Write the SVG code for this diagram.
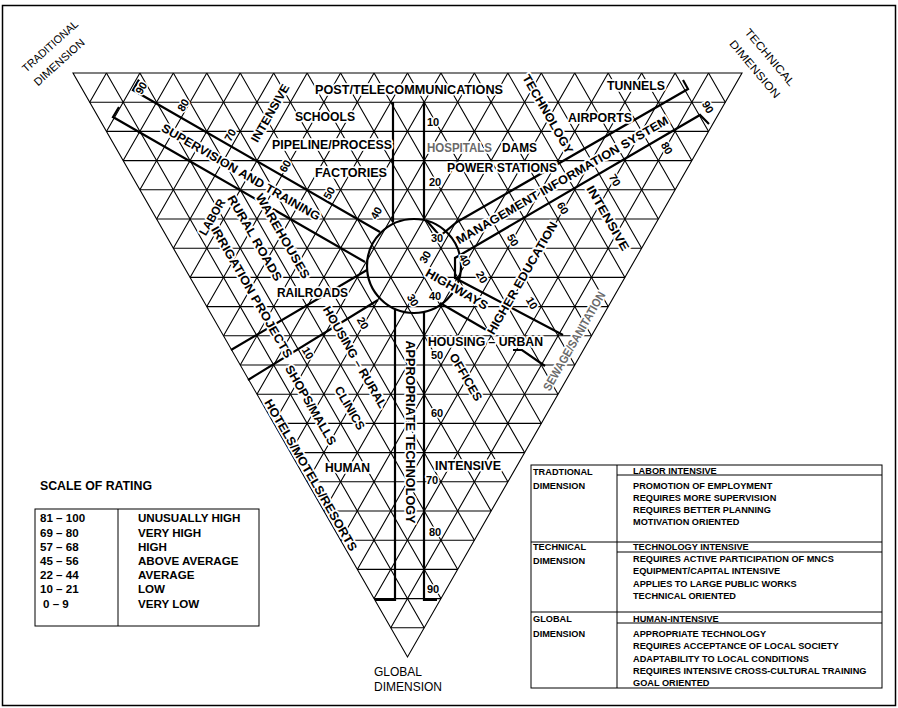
<svg xmlns="http://www.w3.org/2000/svg" width="898" height="708" viewBox="0 0 898 708">
<style>
.g{stroke:#000;stroke-width:1.1;fill:none}
.k{stroke:#000;stroke-width:2.2;fill:none;stroke-linejoin:miter}
.th{stroke:#000;stroke-width:1;fill:none}
text{font-family:"Liberation Sans",Arial,Helvetica,sans-serif;fill:#000}
.lb{font-size:12px;font-weight:bold;text-anchor:middle;stroke:#fff;stroke-width:3.5;paint-order:stroke;stroke-linejoin:round}
.nm{font-size:11px;font-weight:bold;text-anchor:middle;stroke:#fff;stroke-width:3;paint-order:stroke;stroke-linejoin:round}
.gr{fill:#6a6a6a}
.cn{font-size:11px;text-anchor:middle}
.gd{font-size:12px}
.sr{font-size:11.6px;font-weight:bold}
.dt{font-size:9.2px;font-weight:bold}
</style>
<rect x="2.5" y="5.5" width="893" height="700" fill="#fff" stroke="#000" stroke-width="1.5"/>

<g id="grid">
<path class="g" d="M73,73H742L407.5,657Z"/>
<path class="g" d="M89.7,102.2H725.3M106.5,131.4H708.6M123.2,160.6H691.8M139.9,189.8H675.1M156.6,219H658.4M173.4,248.2H641.7M190.1,277.4H624.9M206.8,306.6H608.2M223.5,335.8H591.5M240.3,365H574.8M257,394.2H558M273.7,423.4H541.3M290.4,452.6H524.6M307.2,481.8H507.9M323.9,511H491.1M340.6,540.2H474.4M357.3,569.4H457.7M374.1,598.6H441M390.8,627.8H424.3"/>
<path class="g" d="M106.45,73L424.2,627.8M139.9,73L440.95,598.6M173.35,73L457.7,569.4M206.8,73L474.4,540.2M240.25,73L491.1,511M273.7,73L507.85,481.8M307.15,73L524.6,452.6M340.6,73L541.3,423.4M374.05,73L558,394.2M407.5,73L574.75,365M440.95,73L591.5,335.8M474.4,73L608.2,306.6M507.85,73L624.9,277.4M541.3,73L641.65,248.2M574.75,73L658.4,219M608.2,73L675.1,189.8M641.65,73L691.8,160.6M675.1,73L708.6,131.4M708.55,73L725.3,102.2"/>
<path class="g" d="M106.45,73L89.7,102.2M139.9,73L106.45,131.4M173.35,73L123.2,160.6M206.8,73L139.9,189.8M240.25,73L156.6,219M273.7,73L173.35,248.2M307.15,73L190.1,277.4M340.6,73L206.8,306.6M374.05,73L223.5,335.8M407.5,73L240.25,365M440.95,73L256.95,394.2M474.4,73L273.7,423.4M507.85,73L290.4,452.6M541.3,73L307.15,481.8M574.75,73L323.9,511M608.2,73L340.6,540.2M641.65,73L357.3,569.4M675.1,73L374.05,598.6M708.55,73L390.8,627.8"/>
</g>

<g id="connectors">
<circle class="k" cx="414" cy="266" r="47"/>
<path class="k" d="M139,79.6L133,90L380,232"/>
<path class="k" d="M119,107L113,117L365,262"/>
<path class="k" d="M426,220L440,236L457,222L688,89L683,80"/>
<path class="k" d="M709,124L700,115L455,258L455,278L563,335"/>
<path class="k" d="M440,303L495,335"/>
<path class="k" d="M513,350L522,350L545,366"/>
<path class="k" d="M393,102V222M424,102V219"/>
<path class="k" d="M375,600H395V309M437,600H424V312"/>
<path class="k" d="M378,300L248,380M367,270L231,350"/>
</g>

<g id="labels">
<g id="n-post"><text class="lb" x="409" y="94.3" textLength="188" lengthAdjust="spacingAndGlyphs">POST/TELECOMMUNICATIONS</text></g>
<g id="n-schools"><text class="lb" x="325" y="121.3" textLength="60" lengthAdjust="spacingAndGlyphs">SCHOOLS</text></g>
<g id="n-pipeline"><text class="lb" x="332" y="149.3" textLength="120" lengthAdjust="spacingAndGlyphs">PIPELINE/PROCESS</text></g>
<g id="n-factories"><text class="lb" x="351" y="177.3" textLength="72" lengthAdjust="spacingAndGlyphs">FACTORIES</text></g>
<g id="n-hospitals"><text class="lb gr" x="459.5" y="152.3" textLength="65" lengthAdjust="spacingAndGlyphs">HOSPITALS</text></g>
<g id="n-dams"><text class="lb" x="519.5" y="152.3" textLength="35" lengthAdjust="spacingAndGlyphs">DAMS</text></g>
<g id="n-power"><text class="lb" x="502" y="172.3" textLength="110" lengthAdjust="spacingAndGlyphs">POWER STATIONS</text></g>
<g id="n-tunnels"><text class="lb" x="636" y="90.3" textLength="58" lengthAdjust="spacingAndGlyphs">TUNNELS</text></g>
<g id="n-airports"><text class="lb" x="600" y="122.3" textLength="64" lengthAdjust="spacingAndGlyphs">AIRPORTS</text></g>
<g id="n-railroads"><text class="lb" x="312.5" y="297.3" textLength="71" lengthAdjust="spacingAndGlyphs">RAILROADS</text></g>
<g id="n-human"><text class="lb" x="347.5" y="472.3" textLength="45" lengthAdjust="spacingAndGlyphs">HUMAN</text></g>
<g id="n-intensive-g"><text class="lb" x="468" y="469.5" textLength="66" lengthAdjust="spacingAndGlyphs">INTENSIVE</text></g>
<g id="n-housing-urban"><text class="lb" x="485.5" y="346.3" textLength="115" lengthAdjust="spacingAndGlyphs">HOUSING – URBAN</text></g>

<g id="n-supervision"><text class="lb" transform="translate(241,172) rotate(30)" y="4.3" textLength="181" lengthAdjust="spacingAndGlyphs">SUPERVISION AND TRAINING</text></g>
<g id="n-warehouses"><text class="lb" transform="translate(283,236) rotate(60)" y="4.3" textLength="96" lengthAdjust="spacingAndGlyphs">WAREHOUSES</text></g>
<g id="n-labor"><text class="lb" transform="translate(212,217) rotate(-60)" y="4.3" textLength="40" lengthAdjust="spacingAndGlyphs">LABOR</text></g>
<g id="n-rural-roads"><text class="lb" transform="translate(255,238) rotate(60)" y="4.3" textLength="97" lengthAdjust="spacingAndGlyphs">RURAL ROADS</text></g>
<g id="n-irrigation"><text class="lb" transform="translate(252,292) rotate(60)" y="4.3" textLength="150" lengthAdjust="spacingAndGlyphs">IRRIGATION PROJECTS</text></g>
<g id="n-housing-rural"><text class="lb" transform="translate(355,357) rotate(60)" y="4.3" textLength="115" lengthAdjust="spacingAndGlyphs">HOUSING – RURAL</text></g>
<g id="n-shops"><text class="lb" transform="translate(311,405) rotate(60)" y="4.3" textLength="90" lengthAdjust="spacingAndGlyphs">SHOPS/MALLS</text></g>
<g id="n-clinics"><text class="lb" transform="translate(350,408) rotate(60)" y="4.3" textLength="48" lengthAdjust="spacingAndGlyphs">CLINICS</text></g>
<g id="n-hotels"><text class="lb" transform="translate(311,475) rotate(60)" y="4.3" textLength="173" lengthAdjust="spacingAndGlyphs">HOTELS/MOTELS/RESORTS</text></g>
<g id="n-appropriate"><text class="lb" transform="translate(410,432) rotate(90)" y="4.3" textLength="183" lengthAdjust="spacingAndGlyphs">APPROPRIATE TECHNOLOGY</text></g>
<g id="n-offices"><text class="lb" transform="translate(466,377) rotate(60)" y="4.3" textLength="53" lengthAdjust="spacingAndGlyphs">OFFICES</text></g>
<g id="n-sewage"><text class="lb gr" transform="translate(574,341) rotate(-60)" y="4.3" textLength="112" lengthAdjust="spacingAndGlyphs">SEWAGE/SANITATION</text></g>
<g id="n-higher-ed"><text class="lb" transform="translate(522,278) rotate(-60)" y="4.3" textLength="128" lengthAdjust="spacingAndGlyphs">HIGHER EDUCATION</text></g>
<g id="n-highways"><text class="lb" transform="translate(457,289) rotate(30)" y="4.3" textLength="70" lengthAdjust="spacingAndGlyphs">HIGHWAYS</text></g>
<g id="n-mis"><text class="lb" transform="translate(562,180) rotate(-30)" y="4.3" textLength="243" lengthAdjust="spacingAndGlyphs">MANAGEMENT INFORMATION SYSTEM</text></g>
<g id="n-intensive-t"><text class="lb" transform="translate(608,218) rotate(60)" y="4.3" textLength="73" lengthAdjust="spacingAndGlyphs">INTENSIVE</text></g>
<g id="n-technology"><text class="lb" transform="translate(548,114) rotate(60)" y="4.3" textLength="89" lengthAdjust="spacingAndGlyphs">TECHNOLOGY</text></g>
<g id="n-intensive-l"><text class="lb" transform="translate(270,113) rotate(-60)" y="4.3" textLength="65" lengthAdjust="spacingAndGlyphs">INTENSIVE</text></g>
</g>

<g id="scale-traditional">
<text class="nm" transform="translate(141,88) rotate(-60)" y="4">90</text>
<text class="nm" transform="translate(183,105) rotate(-60)" y="4">80</text>
<text class="nm" transform="translate(230,135) rotate(-60)" y="4">70</text>
<text class="nm" transform="translate(285,166) rotate(-60)" y="4">60</text>
<text class="nm" transform="translate(329,193) rotate(-60)" y="4">50</text>
<text class="nm" transform="translate(376,213) rotate(-60)" y="4">40</text>
<text class="nm" transform="translate(425,257) rotate(-60)" y="4">30</text>
<text class="nm" transform="translate(482,277) rotate(60)" y="4">20</text>
<text class="nm" transform="translate(532,303) rotate(60)" y="4">10</text>
</g>
<g id="scale-technical">
<text class="nm" transform="translate(708,107) rotate(60)" y="4">90</text>
<text class="nm" transform="translate(667,148) rotate(60)" y="4">80</text>
<text class="nm" transform="translate(615,180) rotate(60)" y="4">70</text>
<text class="nm" transform="translate(563,208) rotate(60)" y="4">60</text>
<text class="nm" transform="translate(513,240) rotate(60)" y="4">50</text>
<text class="nm" transform="translate(465,260) rotate(60)" y="4">40</text>
<text class="nm" transform="translate(413,300) rotate(60)" y="4">30</text>
<text class="nm" transform="translate(363,323) rotate(60)" y="4">20</text>
<text class="nm" transform="translate(308,353) rotate(60)" y="4">10</text>
</g>
<g id="scale-global">
<text class="nm" x="433" y="126">10</text>
<text class="nm" x="435" y="186">20</text>
<text class="nm" x="437" y="242">30</text>
<text class="nm" x="435" y="300">40</text>
<text class="nm" x="437" y="359">50</text>
<text class="nm" x="437" y="417">60</text>
<text class="nm" x="432" y="484">70</text>
<text class="nm" x="435" y="536">80</text>
<text class="nm" x="433" y="593">90</text>
</g>

<g id="corner-labels">
<text class="cn" transform="translate(50,46) rotate(-42)" y="4" textLength="71" lengthAdjust="spacingAndGlyphs">TRADITIONAL</text>
<text class="cn" transform="translate(59,62) rotate(-42)" y="4" textLength="64" lengthAdjust="spacingAndGlyphs">DIMENSION</text>
<text class="cn" transform="translate(770,57) rotate(50)" y="4" textLength="71" lengthAdjust="spacingAndGlyphs">TECHNICAL</text>
<text class="cn" transform="translate(755,69) rotate(50)" y="4" textLength="72" lengthAdjust="spacingAndGlyphs">DIMENSION</text>
<text class="gd" x="374" y="676">GLOBAL</text>
<text class="gd" x="374" y="691">DIMENSION</text>
</g>

<g id="scale-of-rating">
<text x="40" y="490" font-size="12" font-weight="bold" textLength="112" lengthAdjust="spacingAndGlyphs">SCALE OF RATING</text>
<rect class="th" x="35" y="509" width="224" height="117"/>
<path class="th" d="M118,509V626"/>
<text class="sr" x="40" y="522">81 – 100</text>
<text class="sr" x="40" y="537">69 – 80</text>
<text class="sr" x="40" y="551">57 – 68</text>
<text class="sr" x="40" y="565">45 – 56</text>
<text class="sr" x="40" y="579">22 – 44</text>
<text class="sr" x="40" y="593">10 – 21</text>
<text class="sr" x="43" y="608">0 – 9</text>
<text class="sr" x="138" y="522">UNUSUALLY HIGH</text>
<text class="sr" x="138" y="537">VERY HIGH</text>
<text class="sr" x="138" y="551">HIGH</text>
<text class="sr" x="138" y="565">ABOVE AVERAGE</text>
<text class="sr" x="138" y="579">AVERAGE</text>
<text class="sr" x="138" y="593">LOW</text>
<text class="sr" x="138" y="608">VERY LOW</text>
</g>

<g id="dimension-table">
<rect class="th" x="531" y="465" width="351" height="223"/>
<path class="th" d="M617,465V688M531,542H882M531,612H882M617,475H882M617,552H882M617,623H882"/>
<text class="dt" x="533" y="474.5">TRADTIONAL</text>
<text class="dt" x="533" y="488.5">DIMENSION</text>
<text class="dt" x="533" y="549.5">TECHNICAL</text>
<text class="dt" x="533" y="563.5">DIMENSION</text>
<text class="dt" x="533" y="621.5">GLOBAL</text>
<text class="dt" x="533" y="636.5">DIMENSION</text>
<text class="dt" x="633" y="474">LABOR INTENSIVE</text>
<text class="dt" x="633" y="488.5">PROMOTION OF EMPLOYMENT</text>
<text class="dt" x="633" y="500.5">REQUIRES MORE SUPERVISION</text>
<text class="dt" x="633" y="512.5">REQUIRES BETTER PLANNING</text>
<text class="dt" x="633" y="524.5">MOTIVATION ORIENTED</text>
<text class="dt" x="633" y="549.5">TECHNOLOGY INTENSIVE</text>
<text class="dt" x="633" y="561.5">REQUIRES ACTIVE PARTICIPATION OF MNCS</text>
<text class="dt" x="633" y="574">EQUIPMENT/CAPITAL INTENSIVE</text>
<text class="dt" x="633" y="586.5">APPLIES TO LARGE PUBLIC WORKS</text>
<text class="dt" x="633" y="599">TECHNICAL ORIENTED</text>
<text class="dt" x="633" y="621.5">HUMAN-INTENSIVE</text>
<text class="dt" x="633" y="636.5">APPROPRIATE TECHNOLOGY</text>
<text class="dt" x="633" y="649">REQUIRES ACCEPTANCE OF LOCAL SOCIETY</text>
<text class="dt" x="633" y="661.5">ADAPTABILITY TO LOCAL CONDITIONS</text>
<text class="dt" x="633" y="674">REQUIRES INTENSIVE CROSS-CULTURAL TRAINING</text>
<text class="dt" x="633" y="685.5">GOAL ORIENTED</text>
</g>
</svg>
